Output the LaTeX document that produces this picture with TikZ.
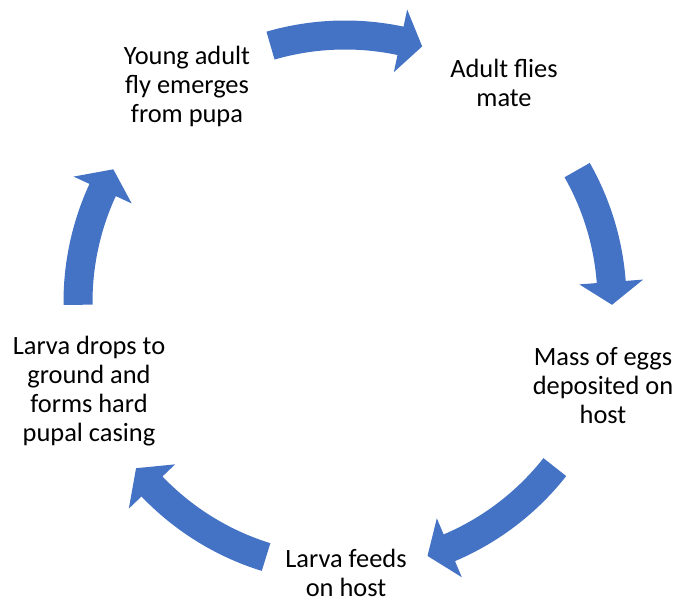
\documentclass[tikz,border=0pt]{standalone}
\usepackage{fontspec}
\setmainfont{Carlito}
\definecolor{arrowblue}{HTML}{4472C4}
\tikzset{
  lbl/.style={align=center, inner sep=0pt, text=black, font=\fontsize{26.4}{29}\selectfont},
  arrowfill/.style={fill=arrowblue, draw=none}
}
% #1 tail angle, #2 head base angle, #3 tip angle (clockwise arrow)
\newcommand{\bluearc}[3]{%
  \fill[arrowfill] (#1:281.5pt) arc[start angle=#1, end angle=#2, radius=281.5pt]
    -- (#2:299pt) -- (#3:267pt) -- (#2:235pt) -- (#2:252.5pt)
    arc[start angle=#2, end angle=#1, radius=252.5pt] -- cycle;}
\begin{document}
\begin{tikzpicture}[x=1pt,y=1pt]
\useasboundingbox (0,0) rectangle (677,-599);
\fill[white] (0,0) rectangle (677,-599);
% text nodes
\node[lbl] (young) at (187,-86.5) {Young adult\\fly emerges\\from pupa};
\node[lbl] (mate)  at (504,-83) {Adult flies\\mate};
\node[lbl] (eggs)  at (603,-385.5) {Mass of eggs\\deposited on\\host};
\node[lbl] (feeds) at (346,-573) {Larva feeds\\on host};
\node[lbl] (drops) at (89,-391) {Larva drops to\\ground and\\forms hard\\pupal casing};
% cycle arrows
\begin{scope}[shift={(345,-302)}]
  \coordinate (centre) at (0,0);
  \bluearc{106.2}{78}{73.2}
  \bluearc{29.6}{4.3}{-0.6}
  \bluearc{-38.2}{-67}{-72}
  \bluearc{-107.2}{-136.3}{-141.5}
  \bluearc{180.6}{155.2}{150.2}
\end{scope}
\end{tikzpicture}
\end{document}
